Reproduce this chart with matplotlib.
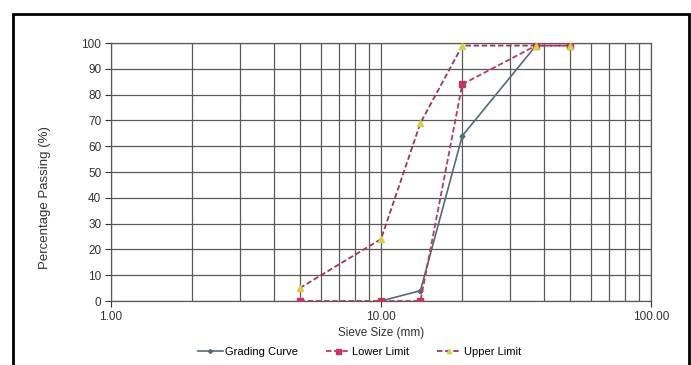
import matplotlib
matplotlib.use("Agg")
import matplotlib.pyplot as plt
from matplotlib.patches import Rectangle
from matplotlib.ticker import FixedLocator, LogLocator, NullFormatter

plt.rcParams['font.family'] = ['Liberation Sans', 'DejaVu Sans']

# sieve sizes (mm) and percentage passing
grading_size = [10, 14, 20, 37.5]
grading_pass = [0, 4, 64, 99]
lower_size = [5, 10, 14, 20, 37.5, 50]
lower_pass = [0, 0, 0, 84, 99, 99]
upper_size = [5, 10, 14, 20, 37.5, 50]
upper_pass = [5, 24, 69, 99, 99, 99]

x_ticks = [1, 10, 100]
x_labels = ['1.00', '10.00', '100.00']
y_ticks = list(range(0, 101, 10))

fig = plt.figure(figsize=(6.91, 3.65), dpi=100)
ax = fig.add_axes([111 / 691, 1 - 301 / 365, 540 / 691, 258 / 365])

ax.plot(grading_size, grading_pass, color='#4f6d7a', lw=1.2, marker='D',
        ms=2.5, label='Grading Curve', zorder=3)
ax.plot(lower_size, lower_pass, color='#c8345a', lw=1.3, ls=(0, (3, 1.5)),
        marker='s', ms=4.5, label='Lower Limit', zorder=4)
ax.plot(upper_size, upper_pass, color='#a8325a', lw=1.3, ls=(0, (3, 1.5)),
        marker='^', ms=4, mfc='#d6d23c', mec='#d6d23c', label='Upper Limit', zorder=4)

ax.set_xscale('log')
ax.set_xlim(1, 100)
ax.set_ylim(0, 100)
ax.xaxis.set_major_locator(FixedLocator(x_ticks))
ax.set_xticklabels(x_labels)
ax.xaxis.set_minor_locator(LogLocator(base=10, subs=range(2, 10)))
ax.xaxis.set_minor_formatter(NullFormatter())
ax.set_yticks(y_ticks)

ax.grid(True, which='both', axis='x', color='#5a5a5a', lw=0.9)
ax.grid(True, which='major', axis='y', color='#5a5a5a', lw=0.9)
for s in ax.spines.values():
    s.set_color('#5a5a5a')
    s.set_linewidth(0.9)

ax.tick_params(axis='both', which='major', labelsize=8.5, colors='#333333',
               length=4, width=0.8, pad=3)
ax.tick_params(axis='x', which='minor', length=0)

ax.set_xlabel('Sieve Size (mm)', fontsize=8.5, color='#333333', labelpad=3)
ax.set_ylabel('Percentage Passing (%)', fontsize=9.5, color='#333333')
ax.yaxis.set_label_coords(-0.112, 0.40)

ax.legend(loc='upper center', bbox_to_anchor=(0.46, -0.14), ncol=3,
          frameon=False, fontsize=8, handlelength=2.2, handletextpad=0.2,
          columnspacing=2.5, markerscale=0.8)

fig.patches.append(Rectangle((13 / 691, -0.05), 676 / 691, 1.05 - 14 / 365,
                             transform=fig.transFigure, fill=False,
                             ec='black', lw=2))

fig.savefig('out.png', dpi=100)
